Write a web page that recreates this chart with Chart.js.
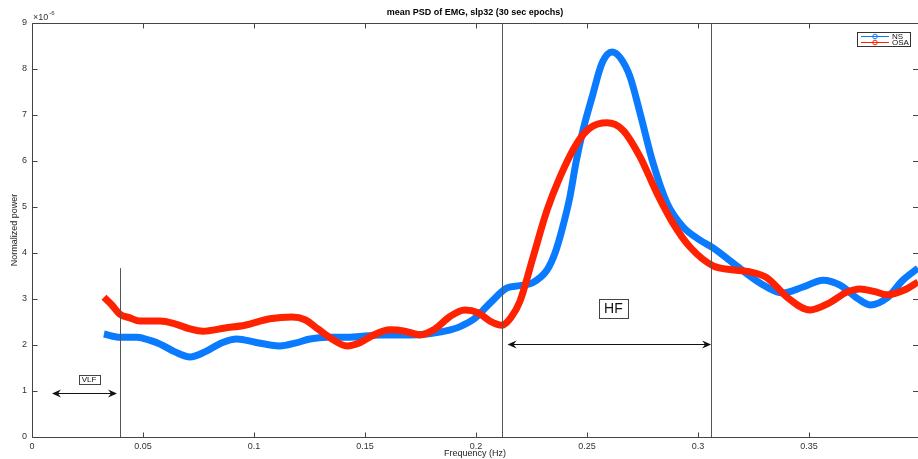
<!DOCTYPE html>
<html>
<head>
<meta charset="utf-8">
<script src="https://cdn.jsdelivr.net/npm/chart.js@4.4.1/dist/chart.umd.min.js"></script>
<style>
  html, body { margin: 0; padding: 0; background: #fff; }
  #psd { display: block; }
</style>
</head>
<body>
<canvas id="psd" width="918" height="459"></canvas>
<script>
const FONT = '"Liberation Sans", Arial, Helvetica, sans-serif';

// NS curve (power in units of 1e-6)
const nsFreq = [0.0324, 0.0396, 0.0473, 0.0532, 0.0577, 0.0644, 0.0712, 0.0779, 0.0856, 0.0923,
  0.1005, 0.1072, 0.1117, 0.1185, 0.1252, 0.1329, 0.1432, 0.1568, 0.1703, 0.1779,
  0.1860, 0.1928, 0.1995, 0.2063, 0.2140, 0.2198, 0.2257, 0.2320, 0.2356, 0.2387,
  0.2423, 0.2450, 0.2482, 0.2523, 0.2568, 0.2613, 0.2649, 0.2694, 0.2739, 0.2797,
  0.2860, 0.2932, 0.3009, 0.3068, 0.3158, 0.3279, 0.3383, 0.3473, 0.3563, 0.3640,
  0.3716, 0.3775, 0.3851, 0.3923, 0.3991];
const nsPower = [2.24, 2.17, 2.17, 2.10, 2.02, 1.85, 1.74, 1.85, 2.05, 2.13,
  2.06, 2.00, 1.98, 2.04, 2.13, 2.17, 2.17, 2.22, 2.22, 2.24,
  2.30, 2.40, 2.58, 2.91, 3.24, 3.29, 3.36, 3.63, 4.00, 4.50,
  5.22, 5.96, 6.67, 7.39, 8.13, 8.37, 8.25, 7.83, 7.04, 5.96,
  5.09, 4.57, 4.28, 4.11, 3.78, 3.35, 3.13, 3.26, 3.41, 3.30,
  3.02, 2.87, 3.02, 3.41, 3.67];

// OSA curve
const osaFreq = [0.0324, 0.0360, 0.0396, 0.0441, 0.0486, 0.0577, 0.0644, 0.0712, 0.0770, 0.0869,
  0.0959, 0.1072, 0.1171, 0.1230, 0.1288, 0.1351, 0.1419, 0.1477, 0.1532, 0.1613,
  0.1680, 0.1748, 0.1815, 0.1883, 0.1950, 0.2009, 0.2063, 0.2117, 0.2158, 0.2198,
  0.2257, 0.2320, 0.2378, 0.2455, 0.2514, 0.2590, 0.2662, 0.2739, 0.2815, 0.2887,
  0.2964, 0.3068, 0.3144, 0.3234, 0.3311, 0.3401, 0.3505, 0.3586, 0.3671, 0.3730,
  0.3797, 0.3851, 0.3932, 0.3991];
const osaPower = [3.04, 2.87, 2.67, 2.59, 2.52, 2.52, 2.46, 2.35, 2.30, 2.37,
  2.43, 2.57, 2.61, 2.55, 2.35, 2.13, 1.98, 2.05, 2.20, 2.33,
  2.30, 2.22, 2.35, 2.62, 2.76, 2.70, 2.52, 2.43, 2.60, 2.95,
  3.91, 4.93, 5.65, 6.39, 6.72, 6.83, 6.67, 6.09, 5.30, 4.65,
  4.13, 3.72, 3.64, 3.59, 3.46, 3.04, 2.76, 2.90, 3.15, 3.22,
  3.16, 3.09, 3.20, 3.37];

const xTicks = [0, 0.05, 0.1, 0.15, 0.2, 0.25, 0.3, 0.35];
const yTicks = [0, 1, 2, 3, 4, 5, 6, 7, 8, 9];

// band markers: [freq, top value]
const bandLines = [[0.0396, 3.67], [0.2117, 9], [0.3059, 9]];
// arrows: [from, to, level]
const bandArrows = [[0.009, 0.0383, 0.96], [0.2142, 0.3059, 2.015]];
// labels: [text, freq, level, fontSize]
const bandLabels = [['VLF', 0.0257, 1.26, 8], ['HF', 0.2619, 2.80, 14]];

const toPoints = (xs, ys) => xs.map((x, i) => ({ x: x, y: ys[i] }));

function arrowHead(ctx, x, y, dir) {
    // MATLAB-like notched arrow head, dir = -1 points left, 1 points right
    ctx.beginPath();
    ctx.moveTo(x, y);
    ctx.lineTo(x - dir * 9, y - 4);
    ctx.lineTo(x - dir * 6, y);
    ctx.lineTo(x - dir * 9, y + 4);
    ctx.closePath();
    ctx.fill();
}

const matlabFrame = {
    id: 'matlabFrame',
    afterDatasetsDraw(chart) {
        const ctx = chart.ctx;
        const area = chart.chartArea;
        const xs = chart.scales.x, ys = chart.scales.y;
        ctx.save();

        // band lines
        ctx.strokeStyle = '#555';
        ctx.lineWidth = 1;
        bandLines.forEach(([f, top]) => {
            const px = Math.round(xs.getPixelForValue(f)) + 0.5;
            ctx.beginPath();
            ctx.moveTo(px, ys.getPixelForValue(0));
            ctx.lineTo(px, ys.getPixelForValue(top));
            ctx.stroke();
        });

        // arrows
        ctx.strokeStyle = '#111';
        ctx.fillStyle = '#111';
        bandArrows.forEach(([a, b, lvl]) => {
            const x1 = xs.getPixelForValue(a), x2 = xs.getPixelForValue(b);
            const py = Math.round(ys.getPixelForValue(lvl)) + 0.5;
            ctx.beginPath();
            ctx.moveTo(x1 + 4, py);
            ctx.lineTo(x2 - 4, py);
            ctx.stroke();
            arrowHead(ctx, x1, py, -1);
            arrowHead(ctx, x2, py, 1);
        });

        // band labels in boxes
        ctx.textAlign = 'center';
        ctx.textBaseline = 'middle';
        bandLabels.forEach(([txt, f, lvl, size]) => {
            const cx = xs.getPixelForValue(f), cy = ys.getPixelForValue(lvl);
            ctx.font = size + 'px ' + FONT;
            const w = ctx.measureText(txt).width + (size > 10 ? 10 : 6);
            const h = size + (size > 10 ? 5 : 1);
            ctx.fillStyle = '#fff';
            ctx.fillRect(Math.round(cx - w / 2) + 0.5, Math.round(cy - h / 2) + 0.5, Math.round(w), h);
            ctx.strokeStyle = '#444';
            ctx.strokeRect(Math.round(cx - w / 2) + 0.5, Math.round(cy - h / 2) + 0.5, Math.round(w), h);
            ctx.fillStyle = '#111';
            ctx.fillText(txt, cx, cy + 1);
        });

        // axes box
        ctx.strokeStyle = '#444';
        ctx.lineWidth = 1;
        const L = area.left + 0.5, T = area.top + 0.5, B = area.bottom + 0.5;
        ctx.beginPath();
        ctx.moveTo(area.right, T); ctx.lineTo(L, T); ctx.lineTo(L, B); ctx.lineTo(area.right, B);
        ctx.stroke();

        // inward tick marks
        ctx.beginPath();
        xTicks.forEach(v => {
            const px = Math.round(xs.getPixelForValue(v)) + 0.5;
            ctx.moveTo(px, B); ctx.lineTo(px, B - 5);
            ctx.moveTo(px, T); ctx.lineTo(px, T + 5);
        });
        yTicks.forEach(v => {
            const py = Math.round(ys.getPixelForValue(v)) + 0.5;
            ctx.moveTo(L, py); ctx.lineTo(L + 5, py);
            ctx.moveTo(area.right, py); ctx.lineTo(area.right - 5, py);
        });
        ctx.stroke();

        // exponent label
        ctx.fillStyle = '#333';
        ctx.textAlign = 'left';
        ctx.textBaseline = 'alphabetic';
        ctx.font = '9px ' + FONT;
        ctx.fillText('\u00d710', area.left + 1, area.top - 3);
        const expX = area.left + 1 + ctx.measureText('\u00d710').width + 1;
        ctx.font = '6px ' + FONT;
        ctx.fillText('-6', expX, area.top - 8);

        // title
        ctx.fillStyle = '#000';
        ctx.textAlign = 'center';
        ctx.font = 'bold 9px ' + FONT;
        ctx.fillText('mean PSD of EMG, slp32 (30 sec epochs)', (area.left + area.right) / 2, 15);

        // legend
        const lx = area.right - 61, ly = area.top + 9;
        ctx.fillStyle = '#fff';
        ctx.fillRect(lx + 0.5, ly + 0.5, 53, 14);
        ctx.strokeStyle = '#333';
        ctx.strokeRect(lx + 0.5, ly + 0.5, 53, 14);
        ctx.font = '8px ' + FONT;
        ctx.textAlign = 'left';
        ctx.textBaseline = 'middle';
        chart.data.datasets.forEach((ds, i) => {
            const yy = ly + 4.5 + i * 6;
            ctx.strokeStyle = ds.borderColor;
            ctx.lineWidth = 1;
            ctx.beginPath();
            ctx.moveTo(lx + 4, yy); ctx.lineTo(lx + 32, yy);
            ctx.stroke();
            ctx.beginPath();
            ctx.arc(lx + 18, yy, 2.3, 0, Math.PI * 2);
            ctx.stroke();
            ctx.fillStyle = '#111';
            ctx.fillText(ds.label, lx + 35, yy + 0.5);
        });

        ctx.restore();
    }
};

new Chart(document.getElementById('psd'), {
    type: 'line',
    data: {
        datasets: [
            {
                label: 'NS',
                data: toPoints(nsFreq, nsPower),
                borderColor: '#0a7bff',
                borderWidth: 7,
                pointRadius: 0,
                cubicInterpolationMode: 'monotone',
                order: 2
            },
            {
                label: 'OSA',
                data: toPoints(osaFreq, osaPower),
                borderColor: '#ff2200',
                borderWidth: 7,
                pointRadius: 0,
                cubicInterpolationMode: 'monotone',
                order: 1
            }
        ]
    },
    options: {
        responsive: false,
        animation: false,
        events: [],
        layout: { padding: { top: 23, left: 0, right: 0, bottom: 0 } },
        plugins: {
            legend: { display: false },
            title: { display: false },
            tooltip: { enabled: false }
        },
        scales: {
            x: {
                type: 'linear',
                min: 0,
                max: 0.3991,
                afterBuildTicks: (scale) => { scale.ticks = xTicks.map(v => ({ value: v })); },
                afterFit: (scale) => { scale.height = 22; },
                grid: { display: false, drawTicks: false },
                border: { display: false },
                ticks: {
                    padding: 4,
                    color: '#333',
                    font: { family: FONT, size: 9 },
                    maxRotation: 0,
                    autoSkip: false,
                    callback: (v) => String(Number(v.toFixed(2)))
                },
                title: {
                    display: true,
                    text: 'Frequency (Hz)',
                    color: '#222',
                    font: { family: FONT, size: 9 },
                    padding: { top: 0, bottom: 0 }
                }
            },
            y: {
                min: 0,
                max: 9,
                afterBuildTicks: (scale) => { scale.ticks = yTicks.map(v => ({ value: v })); },
                afterFit: (scale) => { scale.width = 32; },
                grid: { display: false, drawTicks: false },
                border: { display: false },
                ticks: {
                    padding: 5,
                    color: '#333',
                    font: { family: FONT, size: 9 }
                },
                title: {
                    display: true,
                    text: 'Normalized power',
                    color: '#222',
                    font: { family: FONT, size: 9 },
                    padding: { top: 9, bottom: 0 }
                }
            }
        }
    },
    plugins: [matlabFrame]
});
</script>
</body>
</html>
